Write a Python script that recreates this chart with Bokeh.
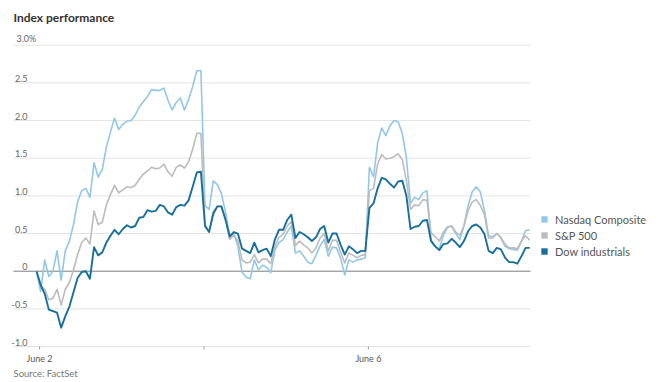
from bokeh.plotting import figure
from bokeh.models import Range1d, Legend, LegendItem
from bokeh.core.properties import value
from bokeh.embed import file_html
from bokeh.resources import INLINE

# ---------------- data ----------------
series_names = ["Nasdaq Composite", "S&P 500", "Dow industrials"]

nasdaq = [0, -0.27, 0.15, -0.07, 0.0, 0.27, -0.12, 0.27, 0.4, 0.62,
          0.92, 1.07, 1.1, 0.98, 1.44, 1.25, 1.35, 1.65, 1.85, 2.03,
          1.88, 1.95, 1.99, 2.0, 2.07, 2.18, 2.25, 2.32, 2.41, 2.4,
          2.4, 2.43, 2.27, 2.14, 2.24, 2.3, 2.14, 2.28, 2.45, 2.66,
          2.66, 0.87, 0.82, 1.2, 1.15, 1.03, 0.78, 0.48, 0.5, 0.33,
          -0.01, -0.08, -0.1, 0.15, 0.02, 0.08, 0.05, -0.02, 0.28, 0.38,
          0.42, 0.52, 0.6, 0.24, 0.27, 0.2, 0.12, 0.1, 0.21, 0.34,
          0.42, 0.2, 0.32, 0.31, 0.17, -0.05, 0.15, 0.12, 0.15, 0.16,
          0.18, 1.38, 1.25, 1.7, 1.9, 1.8, 1.93, 2.0, 1.98, 1.83,
          1.5, 0.9, 0.98, 0.95, 1.04, 1.07, 0.42, 0.33, 0.3, 0.48,
          0.58, 0.6, 0.5, 0.42, 0.6, 0.87, 1.05, 1.12, 1.05, 0.8,
          0.47, 0.46, 0.5, 0.44, 0.33, 0.3, 0.29, 0.28, 0.4, 0.54, 0.55]

sp500 = [0, -0.2, -0.24, -0.38, -0.36, -0.24, -0.45, -0.24, -0.15, 0.02,
         0.22, 0.38, 0.44, 0.36, 0.8, 0.62, 0.65, 0.88, 1.02, 1.14,
         1.04, 1.08, 1.12, 1.11, 1.14, 1.22, 1.29, 1.33, 1.38, 1.36,
         1.37, 1.42, 1.32, 1.26, 1.38, 1.41, 1.37, 1.45, 1.62, 1.83,
         1.83, 0.62, 0.52, 0.8, 0.86, 0.86, 0.7, 0.42, 0.48, 0.4,
         0.15, 0.11, 0.12, 0.22, 0.11, 0.16, 0.16, 0.1, 0.33, 0.45,
         0.49, 0.6, 0.66, 0.34, 0.4, 0.35, 0.31, 0.24, 0.31, 0.44,
         0.5, 0.27, 0.41, 0.41, 0.25, 0.11, 0.24, 0.21, 0.18, 0.21,
         0.22, 1.07, 1.1, 1.42, 1.55, 1.49, 1.5, 1.52, 1.56, 1.48,
         1.2, 0.82, 0.88, 0.87, 0.95, 0.94, 0.51, 0.46, 0.4, 0.52,
         0.59, 0.6, 0.52, 0.48, 0.6, 0.8, 0.92, 0.95, 0.87, 0.75,
         0.44, 0.44, 0.5, 0.45, 0.36, 0.31, 0.31, 0.3, 0.4, 0.47, 0.41]

dow = [0, -0.18, -0.3, -0.51, -0.53, -0.55, -0.75, -0.6, -0.47, -0.28,
       -0.09, -0.01, 0, -0.1, 0.32, 0.21, 0.25, 0.38, 0.47, 0.55,
       0.49, 0.56, 0.61, 0.58, 0.6, 0.71, 0.72, 0.81, 0.79, 0.8,
       0.88, 0.86, 0.78, 0.75, 0.85, 0.88, 0.87, 0.94, 1.12, 1.31,
       1.32, 0.6, 0.52, 0.76, 0.86, 0.86, 0.68, 0.46, 0.52, 0.5,
       0.3, 0.27, 0.24, 0.38, 0.25, 0.28, 0.3, 0.2, 0.42, 0.55,
       0.55, 0.68, 0.75, 0.44, 0.52, 0.49, 0.45, 0.4, 0.45, 0.56,
       0.6, 0.38, 0.5, 0.5, 0.35, 0.22, 0.33, 0.29, 0.24, 0.27,
       0.27, 0.84, 0.9, 1.1, 1.24, 1.22, 1.16, 1.11, 1.19, 1.2,
       1.0, 0.56, 0.59, 0.6, 0.67, 0.68, 0.4, 0.33, 0.28, 0.36,
       0.37, 0.43, 0.38, 0.32, 0.4, 0.53, 0.6, 0.62, 0.58, 0.49,
       0.27, 0.24, 0.31, 0.29, 0.18, 0.12, 0.12, 0.1, 0.2, 0.31, 0.31]

y_ticks = [3.0, 2.5, 2.0, 1.5, 1.0, 0.5, 0, -0.5, -1.0]
y_tick_labels = ["3.0%", "2.5", "2.0", "1.5", "1.0", "0.5", "0", "-0.5", "-1.0"]
x_ticks = [0.75, 40.75, 80.75]          # session boundaries (sample index)
x_tick_labels = ["June 2", "", "June 6"]

colors = ["#93c7e8", "#bcbcbc", "#17709c"]
widths = [1.6, 1.6, 1.9]

# ---------------- layout helpers (canvas pixel -> data) ----------------
W, H = 654, 380
PX0, STEP = 36.0, 4.11          # px of first sample, px per sample
Y0, UNIT = 270.7, 75.33         # px of 0 %, px per 1 %
FONT = value("Lato")

def xi(px):
    return (px - PX0) / STEP

def yv(py):
    return (Y0 - py) / UNIT

p = figure(width=W, height=H,
           x_range=Range1d(xi(0), xi(W)),
           y_range=Range1d(yv(H), yv(0)),
           output_backend="svg", toolbar_location=None,
           x_axis_type=None, y_axis_type=None, min_border=0)
p.outline_line_color = None
p.background_fill_color = "white"

# grid lines
gx0 = xi(13)
gx1 = xi(530)
grid_vals = [v for v in y_ticks if v != 0]
p.segment(x0=[gx0] * len(grid_vals), y0=grid_vals, x1=[gx1] * len(grid_vals), y1=grid_vals,
          line_color="#e4e4e4", line_width=1)
p.segment(x0=[gx0], y0=[0], x1=[gx1], y1=[0], line_color="#7d7d7d", line_width=1)

# y tick labels (sit just above their grid lines)
lab_x = xi(27)
p.text(x=[lab_x] * (len(y_ticks) - 1), y=y_ticks[1:], text=y_tick_labels[1:],
       text_align="right", text_baseline="bottom", y_offset=-1,
       text_font=FONT, text_font_size="9px", text_color="#666666")
p.text(x=[xi(16)], y=[y_ticks[0]], text=[y_tick_labels[0]],
       text_align="left", text_baseline="bottom", y_offset=-1,
       text_font=FONT, text_font_size="9px", text_color="#666666")

# x ticks + labels
bottom = min(y_ticks)
p.segment(x0=x_ticks, y0=[bottom] * len(x_ticks), x1=x_ticks, y1=[yv(349)] * len(x_ticks),
          line_color="#999999", line_width=1)
p.text(x=x_ticks, y=[bottom] * len(x_ticks), text=x_tick_labels,
       text_align="center", text_baseline="top", y_offset=6,
       text_font=FONT, text_font_size="9px", text_color="#555555")

# lines
idx = list(range(len(nasdaq)))
for vals, c, w in zip([nasdaq, sp500, dow], colors, widths):
    p.line(idx, vals, line_color=c, line_width=w, line_join="round")

# title / source
p.text(x=[xi(13)], y=[yv(17)], text=["Index performance"], text_baseline="middle",
       text_font=FONT, text_font_size="12px", text_font_style="bold", text_color="#333333")
p.text(x=[xi(13)], y=[yv(373)], text=["Source: FactSet"], text_baseline="middle",
       text_font=FONT, text_font_size="9.5px", text_color="#777777")

# legend with square swatches (legend-only renderers, nothing drawn on the plot)
nan = float("nan")
items = []
for name, c in zip(series_names, colors):
    r = p.scatter(x=[nan], y=[nan], marker="square", size=7, fill_color=c, line_color=None)
    items.append(LegendItem(label=name, renderers=[r]))
legend = Legend(items=items, location=(536, H - 259), orientation="vertical",
                glyph_width=16, glyph_height=16, label_height=16, spacing=-1,
                padding=0, margin=0, label_standoff=3,
                label_text_font="Lato", label_text_font_size="11px", label_text_color="#555555",
                border_line_alpha=0, background_fill_alpha=0)
p.add_layout(legend)

open("out.html", "w").write(file_html(p, INLINE))
